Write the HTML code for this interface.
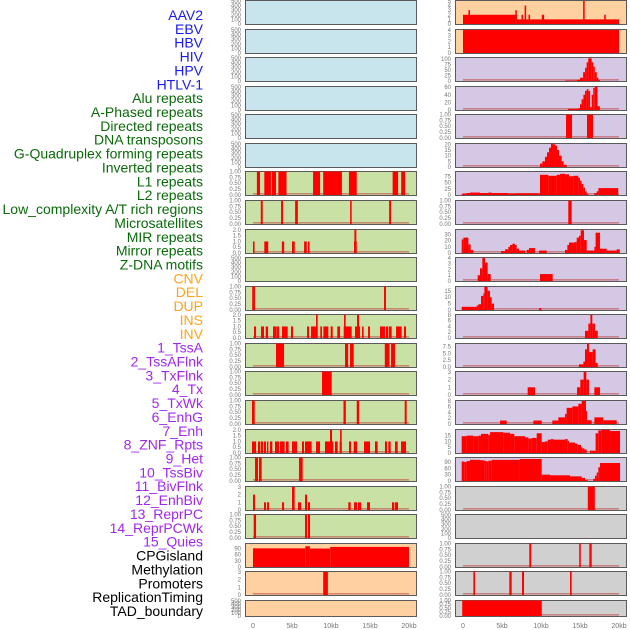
<!DOCTYPE html>
<html><head><meta charset="utf-8"><style>
html,body{margin:0;padding:0;background:#fff;}
svg{display:block;font-family:"Liberation Sans",sans-serif;}
</style></head><body>
<svg id="chart" width="630" height="630" viewBox="0 0 630 630" xmlns="http://www.w3.org/2000/svg"></svg>
<script>
const trackLabels = ['AAV2','EBV','HBV','HIV','HPV','HTLV-1','Alu repeats','A-Phased repeats','Directed repeats','DNA transposons','G-Quadruplex forming repeats','Inverted repeats','L1 repeats','L2 repeats','Low_complexity A/T rich regions','Microsatellites','MIR repeats','Mirror repeats','Z-DNA motifs','CNV','DEL','DUP','INS','INV','1_TssA','2_TssAFlnk','3_TxFlnk','4_Tx','5_TxWk','6_EnhG','7_Enh','8_ZNF_Rpts','9_Het','10_TssBiv','11_BivFlnk','12_EnhBiv','13_ReprPC','14_ReprPCWk','15_Quies','CPGisland','Methylation','Promoters','ReplicationTiming','TAD_boundary'];
const labelGroups = ['virus','virus','virus','virus','virus','virus','rep','rep','rep','rep','rep','rep','rep','rep','rep','rep','rep','rep','rep','sv','sv','sv','sv','sv','hmm','hmm','hmm','hmm','hmm','hmm','hmm','hmm','hmm','hmm','hmm','hmm','hmm','hmm','hmm','other','other','other','other','other'];
const xTickLabels = ['0','5kb','10kb','15kb','20kb'];
const xTickValues = [0,5,10,15,20];

const T500 = ['0','100','200','300','400','500'];
const TQ = ['0.00','0.25','0.50','0.75','1.00'];
const T2 = ['0.0','0.5','1.0','1.5','2.0'];
const T3 = ['0','1','2','3'];
const T4 = ['0','1','2','3','4'];
const T5 = ['0','1','2','3','4','5'];
const T90 = ['0','30','60','90'];

const S_Alu = [[0.5,0.9,1],[1.45,2.3,1],[2.4,2.95,1],[3.25,4.3,1],[7.7,8.6,1],[9.0,11.4,1],[12.3,13.3,1],[17.9,18.6,1],[19.0,19.5,1]];
const S_APhased = [[1.0,1.25,1],[3.6,3.85,1],[5.4,5.75,1],[12.45,12.65,1],[17.45,17.7,1]];
const S_Directed = [[0,0.2,1],[1.45,1.95,1],[3.7,4.0,1],[5.0,5.35,1],[6.55,6.9,1],[7.05,7.25,1],[12.95,13.3,1],[13.0,13.25,2]];
const S_GQuad = [[-0.1,0.25,1],[16.8,17.05,1]];
const S_Inverted = [[0.13,0.39,1],[1.03,1.41,1],[1.63,1.93,1],[2.57,3.04,1],[3.08,3.34,1],[3.72,4.45,1],[4.87,5.13,1],[6.93,7.18,1],[7.44,8.29,1],[8.63,8.85,1],[9.02,9.66,1],[9.96,10.22,1],[10.81,11.16,1],[11.63,12.65,1],[13.08,13.72,1],[13.98,14.19,1],[14.75,15.0,1],[16.28,16.92,1],[17.05,17.35,1],[17.44,17.78,1],[18.34,19.06,1],[19.36,19.62,1],[8.08,8.29,2],[11.67,11.88,2],[13.34,13.59,2]];
const S_L1 = [[2.95,3.98,1],[11.8,12.2,1],[12.44,12.91,1],[16.9,17.5,1],[17.7,18.2,1]];
const S_L2 = [[8.85,10.09,1]];
const S_LowC = [[-0.13,0.22,1],[11.6,11.9,1],[13.3,13.6,1],[19.45,19.7,1]];
const S_Micro = [[-0.13,0.39,1],[0.64,0.9,1],[0.98,1.28,1],[1.41,1.67,1],[1.8,1.97,1],[2.18,2.48,1],[2.82,3.34,1],[3.46,4.06,1],[4.23,4.57,1],[5.0,5.64,1],[6.28,6.54,1],[6.67,7.52,1],[8.08,8.59,1],[9.23,10.3,1],[10.51,10.86,1],[11.11,11.37,1],[12.31,12.57,1],[12.91,13.34,1],[14.23,15.0,1],[15.64,15.98,1],[16.92,17.18,1],[17.35,17.65,1],[18.21,18.55,1],[18.98,19.62,1],[9.87,10.13,2],[11.16,11.37,2]];
const S_MIR = [[0.26,0.64,1],[0.77,1.11,1],[5.9,6.37,1]];
const S_Mirror = [[0.0,0.26,2],[1.41,1.67,1],[1.8,2.05,1],[3.72,3.98,1],[5.0,5.34,3],[5.77,6.16,1],[6.67,6.93,2],[7.05,7.31,1],[12.22,12.52,1],[12.95,13.34,1],[13.46,13.85,1],[14.62,15.0,1],[17.82,18.12,1],[18.21,18.59,1]];
const S_ZDNA = [[0.09,0.39,1],[6.67,6.93,1],[7.05,7.31,1]];
const S_CNV = [[0,6.7,91],[6.7,7.3,101],[7.3,9.9,90],[9.9,20,98]];
const S_DEL = [[9.0,9.6,3]];
const S_INS = [[0,6.9,2],[6.9,20,1],[0.7,0.9,3],[6.7,6.9,3],[7.5,7.7,2],[7.9,8.1,4],[8.4,8.6,2],[10.1,10.4,2],[15.4,15.6,5],[18.1,18.3,2]];
const S_INV = [[0,20,4]];
const S_TssA = [[13.1,14.6,2],[14.6,15.0,5],[15.0,15.4,15],[15.4,15.65,40],[15.65,15.85,60],[15.85,16.05,85],[16.05,16.5,103],[16.5,16.7,85],[16.7,16.9,65],[16.9,17.15,40],[17.15,17.35,15],[17.35,17.55,5]];
const S_TssAFlnk = [[13.46,14.79,3],[14.79,15.0,5],[15.0,15.2,15],[15.2,15.43,28],[15.43,15.64,40],[15.64,15.86,50],[15.86,16.07,55],[16.07,16.3,50],[16.3,16.5,8],[16.5,16.7,40],[16.7,16.9,58],[16.9,17.25,62],[17.25,17.55,10]];
const S_TxFlnk = [[13.21,13.98,1],[15.9,16.67,1]];
const S_Tx = [[9.87,10.17,3],[10.17,10.51,5],[10.51,10.77,9],[10.77,11.03,13],[11.03,11.28,17],[11.28,11.54,21],[11.54,11.8,20],[11.8,12.05,19],[12.05,12.31,15],[12.31,12.65,10],[12.65,12.91,5],[12.91,13.29,2]];
const S_TxWk = [[-0.17,0.47,5],[0.47,0.9,8],[0.9,2.18,10],[2.18,3.25,8],[3.25,3.68,10],[3.68,5.81,8],[5.81,6.67,6],[6.67,9.66,7],[9.66,9.87,6],[9.87,10.94,82],[10.94,12.01,78],[12.01,12.44,82],[12.44,13.08,86],[13.08,13.59,84],[13.59,14.15,76],[14.15,14.79,78],[14.79,15.0,70],[15.0,15.2,58],[15.2,15.43,45],[15.43,15.64,30],[15.64,15.86,15],[15.86,16.07,5],[16.84,17.14,8],[17.14,17.35,15],[17.35,19.9,28]];
const S_EnhG = [[13.5,13.93,1]];
const S_Enh = [[-0.17,0.04,22],[0.04,0.69,25],[0.69,0.98,14],[0.98,1.33,5],[4.87,5.39,3],[5.39,5.81,6],[5.81,6.03,10],[6.03,6.33,13],[6.33,6.67,15],[6.67,6.88,13],[6.88,7.18,7],[7.18,7.95,4],[8.16,8.46,5],[8.46,9.23,8],[9.75,10.73,4],[13.08,13.38,5],[13.38,13.59,13],[13.59,14.36,17],[14.36,14.58,18],[14.58,14.87,25],[14.87,15.09,28],[15.09,15.51,37],[15.51,15.86,21],[15.86,17.0,4],[16.84,17.0,10],[17.0,17.56,33],[17.56,18.42,7],[18.42,19.7,4],[19.7,20.1,6]];
const S_ZNF = [[1.88,2.18,1],[2.18,2.48,2.2],[2.48,2.82,4],[2.82,3.16,3.2],[3.16,3.55,1.2],[9.87,11.5,1.2]];
const S_Het = [[-0.17,1.75,2.5],[1.75,1.97,3.5],[1.97,2.31,4.5],[2.31,2.61,11],[2.61,2.74,13],[2.74,3.16,18],[3.16,3.46,15],[3.46,3.68,10],[3.68,3.98,5],[9.75,10.05,1.5]];
const S_TssBiv = [[15.64,16.07,2.5],[16.07,16.33,5],[16.33,16.58,8],[16.58,16.92,5],[16.92,17.27,2.5]];
const S_BivFlnk = [[14.87,15.43,1],[15.43,15.64,2],[15.64,15.9,6.5],[15.9,16.15,9],[16.15,16.62,5.5],[16.62,17.0,6.5],[17.0,17.27,1.5]];
const S_EnhBiv = [[8.29,9.23,1],[14.62,15.04,1],[15.04,15.47,2],[15.47,15.81,3],[15.81,16.15,2],[16.84,17.56,1]];
const S_ReprPC = [[4.75,5.6,1.2],[9.02,10.09,1.2],[11.45,12.22,1.2],[12.22,13.08,2.3],[13.08,13.29,3.5],[13.29,14.02,5.6],[14.02,14.79,6.1],[14.79,15.21,7],[15.21,15.77,8],[15.77,15.9,4.5],[15.9,16.5,1.3],[16.84,17.99,2.3],[17.99,19.7,1.3]];
const S_ReprPCWk = [[-0.17,0.47,14.5],[0.47,1.33,15],[1.33,1.97,14.5],[1.97,2.31,15],[2.31,3.25,16.5],[3.25,3.46,15.5],[3.46,5.17,18],[5.17,6.03,17.5],[6.03,6.58,16.5],[6.58,7.95,14.5],[7.95,8.38,13.5],[8.38,8.8,12.5],[8.8,9.45,13],[9.45,10.09,17],[10.09,10.51,9.5],[10.51,10.86,10],[10.86,11.28,11.5],[11.28,11.6,12],[11.6,13.08,11.5],[13.08,13.42,12],[13.42,13.59,10.5],[13.59,14.36,9],[14.36,14.7,8],[14.7,15.13,7],[15.13,15.3,5],[15.3,15.56,4],[15.56,15.86,3],[16.28,17.0,2],[17.0,17.35,17],[17.35,17.78,19.5],[17.78,18.85,20],[18.85,20.13,19]];
const S_Quies = [[-0.17,0.17,92],[0.17,0.47,90],[0.47,0.9,94],[0.9,2.18,100],[2.18,2.74,98],[2.74,3.04,95],[3.04,3.25,92],[3.25,3.68,96],[3.68,7.3,100],[7.3,10.09,104],[10.09,11.16,30],[11.16,13.72,27],[13.72,15.21,22],[15.21,15.64,15],[15.64,15.98,5],[16.7,16.92,10],[16.92,17.14,25],[17.14,17.35,40],[17.35,17.56,65],[17.56,20.13,85]];
const S_CpG = [[16.0,16.9,1]];
const S_Prom = [[8.5,8.75,1],[14.9,15.1,1],[16.2,16.5,1]];
const S_Rep = [[1.33,1.54,1],[5.94,6.24,1],[7.56,7.82,1],[13.72,13.93,1]];
const S_TAD = [[-0.1,10.1,1]];

const trackSegs = [null,null,null,null,null,null,S_Alu,S_APhased,S_Directed,null,S_GQuad,S_Inverted,S_L1,S_L2,S_LowC,S_Micro,S_MIR,S_Mirror,S_ZDNA,S_CNV,S_DEL,null,
  S_INS,S_INV,S_TssA,S_TssAFlnk,S_TxFlnk,S_Tx,S_TxWk,S_EnhG,S_Enh,S_ZNF,S_Het,S_TssBiv,S_BivFlnk,S_EnhBiv,S_ReprPC,S_ReprPCWk,S_Quies,S_CpG,null,S_Prom,S_Rep,S_TAD];
const trackTicks = [T500,T500,T500,T500,T500,T500,TQ,TQ,T2,T500,TQ,T2,TQ,TQ,TQ,T2,TQ,T3,TQ,T90,T3,T500,
  T5,T4,['0','25','50','75','100'],['0','20','40','60'],TQ,['0','5','10','15','20'],['0','25','50','75'],TQ,['0','10','20','30'],T4,['0','5','10','15'],['0','2','4','6','8'],['0.0','2.5','5.0','7.5'],T3,['0','2','4','6','8'],['0','5','10','15'],T90,TQ,T500,TQ,TQ,TQ];
const trackHeadroom = [1,1,1,1,1,1,1.02,1.02,1.04,1,1.02,1.04,1.02,1.02,1.02,1.04,1.02,1.04,1.02,1.3,1.04,1,
  1.04,1.04,1.09,1.05,1.02,1.06,1.3,1.02,1.3,1.04,1.25,1.04,1.18,1.04,1.04,1.38,1.26,1.02,1,1.02,1.02,1.02];

const NS='http://www.w3.org/2000/svg';
const svg=document.getElementById('chart');
function mk(tag,attrs,parent){const e=document.createElementNS(NS,tag);for(const k in attrs)e.setAttribute(k,attrs[k]);(parent||svg).appendChild(e);return e;}
const groupColor={virus:'#1a1aee',rep:'#0a6a0a',sv:'#ffa31a',hmm:'#a028ee',other:'#000'};
const bgColor={virus:'#c8e4ec',rep:'#c9e1a4',sv:'#ffd1a0',hmm:'#d5c8e4',other:'#d0d0d0'};
const colX=[245,455];
const panelW=171;

trackLabels.forEach((t,i)=>{
  const tx=mk('text',{x:203,y:15+i*13.86+5,'text-anchor':'end','font-size':'14',fill:groupColor[labelGroups[i]]});
  
  
  tx.textContent=t;
});

trackLabels.forEach((t,i)=>{
  const col=i<22?0:1, row=i%22;
  const top=Math.round(row*28.57), h=row===21?16:24;
  const left=colX[col];
  const g=mk('g',{});
  
  
  const bg=mk('rect',{x:left+0.5,y:top+0.5,width:panelW,height:h,fill:bgColor[labelGroups[i]],stroke:'#5a5a5a','stroke-width':1},g);
  
  
  const ticks=trackTicks[i];
  const topVal=parseFloat(ticks[ticks.length-1]);
  const ymax=topVal*trackHeadroom[i];
  const bottom=top+h;
  const xs=kb=>left+8+kb*7.8;
  const ys=v=>bottom-(v/ymax)*h;
  const segs=trackSegs[i];
  ticks.forEach((lab,k)=>{
    const yy = segs ? ys(parseFloat(lab)) : bottom-(k/(ticks.length-1))*(h-1);
    const tt=mk('text',{x:left-4,y:yy+2,'text-anchor':'end','font-size':'6',fill:'#777'},g);
    
    
    tt.textContent=lab;
  });
  if(segs){
    const band=mk('rect',{x:xs(0),y:bottom-2,width:xs(20)-xs(0),height:1.6,fill:'#c05050',opacity:0.6},g);
    
    
    segs.forEach(s=>{
      const x0=xs(s[0]), x1=xs(s[1]);
      const y0=Math.max(ys(s[2]),top+0.5);
      const r=mk('rect',{x:x0,y:y0,width:Math.max(1,x1-x0),height:bottom-y0,fill:'#ff0000'},g);
      
      
    });
  }
});

[0,1].forEach(c=>{
  xTickValues.forEach((v,k)=>{
    const tx=mk('text',{x:colX[c]+8+v*7.8,y:628,'text-anchor':'middle','font-size':'7',fill:'#777'});
    
    
    tx.textContent=xTickLabels[k];
  });
});
</script>
</body></html>
